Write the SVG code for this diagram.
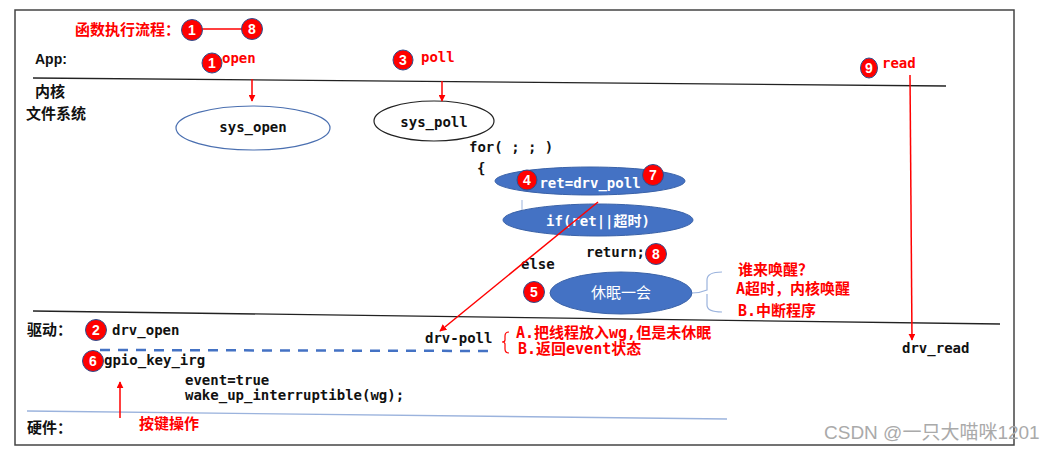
<svg xmlns="http://www.w3.org/2000/svg" width="1058" height="451" viewBox="0 0 1058 451">
<defs>
<style>
.cn{font-family:"Liberation Sans","Noto Sans CJK SC",sans-serif;font-weight:bold;font-size:14px;fill:#111}
.mono{font-family:"DejaVu Sans Mono","Liberation Mono","Noto Sans CJK SC",monospace;font-weight:bold;font-size:14px;fill:#111}
.mx{font-family:"DejaVu Sans Mono","Noto Sans CJK SC",monospace;font-weight:bold;font-size:15px}
.num{font-family:"Liberation Sans",sans-serif;font-weight:bold;font-size:14px;fill:#fff;text-anchor:middle}
.badge{fill:#f00;stroke:#2f4f8f;stroke-width:1}
.rl{stroke:#f00;stroke-width:1.5;fill:none}
.blue{fill:#4472c4;stroke:#3a62a8;stroke-width:1}
.red{fill:#f00}
.wt{fill:#fff}
</style>
<marker id="ah" viewBox="0 0 10 10" refX="9" refY="5" markerWidth="7" markerHeight="7" orient="auto-start-reverse" markerUnits="userSpaceOnUse"><path d="M0,0 L10,5 L0,10 z" fill="#f00"/></marker>
</defs>
<rect x="0" y="0" width="1058" height="451" fill="#fff"/>
<rect x="15" y="10" width="999" height="435" fill="none" stroke="#444" stroke-width="1.5"/>
<g id="layers">
<line x1="33" y1="78" x2="946" y2="86" stroke="#222" stroke-width="1.3"/>
<line x1="33" y1="311" x2="1000" y2="324" stroke="#222" stroke-width="1.3"/>
<line x1="27" y1="411" x2="727" y2="419" stroke="#9bb3dd" stroke-width="1.3"/>
<text class="cn" x="35" y="64">App:</text>
<text class="cn" x="35" y="97" style="font-size:15px">内核</text>
<text class="cn" x="26" y="119" style="font-size:15px">文件系统</text>
<text class="cn" x="27" y="335" style="font-size:15px">驱动：</text>
<text class="cn" x="27" y="433" style="font-size:15px">硬件：</text>
</g>
<g id="title">
<text class="cn red" x="75" y="35" style="font-size:15px">函数执行流程：</text>
<line x1="202" y1="29" x2="242" y2="29" stroke="#f00" stroke-width="1.5"/>
<circle class="badge" cx="192" cy="30" r="10.5"/><text class="num" x="192" y="35">1</text>
<circle class="badge" cx="252" cy="29" r="10.5"/><text class="num" x="252" y="34">8</text>
</g>
<g id="app-open">
<circle class="badge" cx="212" cy="63" r="10"/><text class="num" x="212" y="68">1</text>
<text class="mono red" x="222" y="63">open</text>
</g>
<g id="app-poll">
<circle class="badge" cx="403" cy="60" r="10"/><text class="num" x="403" y="65">3</text>
<text class="mono red" x="421" y="62">poll</text>
</g>
<g id="app-read">
<ellipse class="badge" cx="869" cy="68" rx="8.5" ry="10"/><text class="num" x="869" y="73">9</text>
<text class="mono red" x="882" y="68">read</text>
</g>
<g id="sys_open">
<ellipse cx="253" cy="128" rx="77" ry="22" fill="#fff" stroke="#4a6fb0" stroke-width="1.2"/>
<text class="mono" x="253" y="132" text-anchor="middle">sys_open</text>
</g>
<g id="sys_poll">
<ellipse cx="434" cy="121" rx="60" ry="20" fill="#fff" stroke="#222" stroke-width="1.2"/>
<text class="mono" x="434" y="127" text-anchor="middle">sys_poll</text>
</g>
<g id="loop">
<text class="mono" x="469" y="152">for( ; ; )</text>
<text class="mono" x="477" y="173">{</text>
<line x1="522" y1="200" x2="522" y2="210" stroke="#9bb3dd" stroke-width="1"/>
<text class="mono" x="586" y="257">return;</text>
<text class="mono" x="521" y="269">else</text>
</g>
<g id="ret-drv-poll">
<ellipse class="blue" cx="590" cy="181" rx="95" ry="14"/>
<text class="mono wt" x="590" y="188" text-anchor="middle">ret=drv_poll</text>
<circle class="badge" cx="527" cy="180" r="10"/><text class="num" x="527" y="185">4</text>
<circle class="badge" cx="653" cy="175" r="10.5"/><text class="num" x="653" y="180">7</text>
</g>
<g id="if-ret">
<ellipse class="blue" cx="598" cy="220" rx="95" ry="16"/>
<text class="mono wt" x="598" y="226" text-anchor="middle">if(ret||超时)</text>
</g>
<g id="return-badge">
<circle class="badge" cx="656" cy="254" r="10.5"/><text class="num" x="656" y="259">8</text>
</g>
<g id="sleep">
<circle class="badge" cx="534" cy="292" r="10.5"/><text class="num" x="534" y="297">5</text>
<ellipse class="blue" cx="621" cy="293" rx="71" ry="21"/>
<text class="cn wt" x="621" y="298" text-anchor="middle" style="font-weight:normal;font-size:15px">休眠一会</text>
<path d="M692,293 Q700,293 707,290 L707,280 Q707,272 722,272 M707,294 L707,305 Q707,312 722,312" fill="none" stroke="#9bb3dd" stroke-width="1.2"/>
<text class="mx red" x="738" y="275">谁来唤醒？</text>
<text class="mx red" x="736" y="294">A超时，内核唤醒</text>
<text class="mx red" x="738" y="316">B.中断程序</text>
</g>
<g id="drv-open">
<circle class="badge" cx="96" cy="330" r="10.5"/><text class="num" x="96" y="335">2</text>
<text class="mono" x="112" y="335">drv_open</text>
</g>
<g id="gpio">
<circle class="badge" cx="93" cy="361" r="10.5"/><text class="num" x="93" y="366">6</text>
<text class="mono" x="104" y="365">gpio_key_irg</text>
<text class="mono" x="185" y="385">event=true</text>
<text class="mono" x="185" y="400">wake_up_interruptible(wg);</text>
<text class="cn red" x="139" y="429" style="font-size:15px">按键操作</text>
</g>
<g id="drv-poll">
<text class="mono" x="425" y="343">drv-poll</text>
<path d="M509,332 Q505,332 505,336 L505,340 Q505,342 502,342 Q505,342 505,344 L505,349 Q505,353 509,353" fill="none" stroke="#f00" stroke-width="1.2"/>
<text class="mx red" x="516" y="338">A.把线程放入wg,但是未休眠</text>
<text class="mx red" x="518" y="354">B.返回event状态</text>
</g>
<g id="drv-read">
<text class="mono" x="902" y="353">drv_read</text>
</g>
<g id="connectors">
<line class="rl" x1="252" y1="79" x2="252" y2="101" marker-end="url(#ah)"/>
<line class="rl" x1="442" y1="81" x2="442" y2="101" marker-end="url(#ah)"/>
<line class="rl" x1="910" y1="75" x2="912" y2="340" stroke-width="1.2" marker-end="url(#ah)"/>
<line class="rl" x1="598" y1="202" x2="440" y2="331" marker-end="url(#ah)"/>
<line class="rl" x1="120" y1="418" x2="120" y2="382" marker-end="url(#ah)"/>
<line x1="100" y1="350" x2="492" y2="351" stroke="#4472c4" stroke-width="2.5" stroke-dasharray="10,8"/>
</g>
<text x="824" y="439" font-family="Liberation Sans,Noto Sans CJK SC,sans-serif" font-size="19" fill="#aaa">CSDN @一只大喵咪1201</text>
</svg>
